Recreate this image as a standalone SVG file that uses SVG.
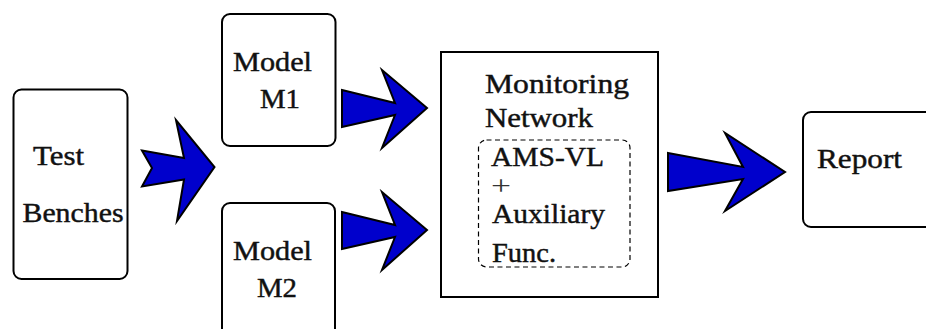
<svg xmlns="http://www.w3.org/2000/svg" width="926" height="329" viewBox="0 0 926 329">
  <style>
    .box { fill: #ffffff; stroke: #000000; stroke-width: 2; }
    .dash { fill: none; stroke: #000000; stroke-width: 1.2; stroke-dasharray: 5 3.5; }
    .arrow { fill: #0000cc; stroke: #000000; stroke-width: 2; stroke-linejoin: miter; stroke-miterlimit: 10; }
    .lbl { font-family: "Liberation Serif", "Times New Roman", serif; font-size: 28px; fill: #111111; stroke: #111111; stroke-width: 0.45; }
    .op { font-family: "Liberation Serif", "Times New Roman", serif; font-size: 22px; fill: #333333; }
  </style>
  <rect width="926" height="329" fill="#ffffff"/>

  <g id="test-benches">
    <rect class="box" x="13.5" y="89.5" width="114" height="189.5" rx="8"/>
    <text class="lbl" x="33" y="165" textLength="51" lengthAdjust="spacingAndGlyphs">Test</text>
    <text class="lbl" x="22.5" y="221.5" textLength="101" lengthAdjust="spacingAndGlyphs">Benches</text>
  </g>

  <g id="model-m1">
    <rect class="box" x="222" y="14" width="113.5" height="132" rx="8"/>
    <text class="lbl" x="233" y="71" textLength="79" lengthAdjust="spacingAndGlyphs">Model</text>
    <text class="lbl" x="260" y="108" textLength="40" lengthAdjust="spacingAndGlyphs">M1</text>
  </g>

  <g id="model-m2">
    <rect class="box" x="222" y="203" width="113" height="150" rx="8"/>
    <text class="lbl" x="233" y="260" textLength="79" lengthAdjust="spacingAndGlyphs">Model</text>
    <text class="lbl" x="257" y="297" textLength="40" lengthAdjust="spacingAndGlyphs">M2</text>
  </g>

  <g id="monitoring-network">
    <rect class="box" x="441" y="52" width="217" height="245" stroke-width="2.5"/>
    <text class="lbl" x="485" y="93" textLength="144" lengthAdjust="spacingAndGlyphs">Monitoring</text>
    <text class="lbl" x="485" y="127" textLength="108" lengthAdjust="spacingAndGlyphs">Network</text>
    <g id="ams-vl">
      <rect class="dash" x="478.5" y="140" width="151.5" height="127" rx="8"/>
      <text class="lbl" x="491" y="166" textLength="113" lengthAdjust="spacingAndGlyphs">AMS-VL</text>
      <text class="op" x="491" y="195" textLength="20" lengthAdjust="spacingAndGlyphs" transform="translate(491 195) scale(1 1.25) translate(-491 -195)">+</text>
      <text class="lbl" x="492" y="222.5" textLength="113" lengthAdjust="spacingAndGlyphs">Auxiliary</text>
      <text class="lbl" x="492" y="261.5" textLength="64" lengthAdjust="spacingAndGlyphs">Func.</text>
    </g>
  </g>

  <g id="report">
    <rect class="box" x="803" y="112" width="140" height="115" rx="8"/>
    <text class="lbl" x="817" y="168" textLength="85" lengthAdjust="spacingAndGlyphs">Report</text>
  </g>

  <g id="connectors">
    <polygon class="arrow" points="142,150.5 184,158 176,120 214.5,167 177,221 184,179.5 142,186.5 152,168"/>
    <polygon class="arrow" points="342,90 395,103 382,70 427,108 382,148 395,115 342,127"/>
    <polygon class="arrow" points="342,212 395,225 382,192 427,230 382,270 395,237 342,249"/>
    <polygon class="arrow" points="668,153 743,167 725,133 785,172 725,211 743,179 668,191"/>
  </g>
</svg>
